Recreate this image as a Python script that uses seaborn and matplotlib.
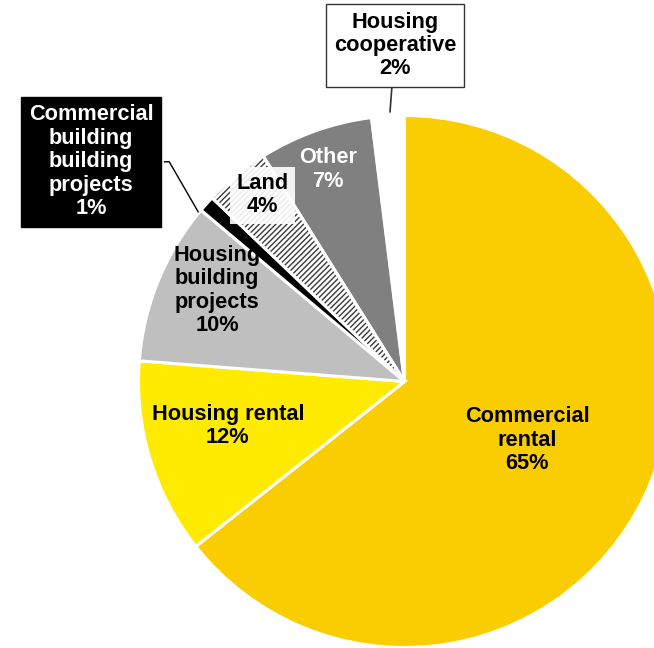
import matplotlib
matplotlib.use("Agg")
import matplotlib.pyplot as plt
from matplotlib.patches import Wedge
import seaborn as sns

# Portfolio breakdown by segment (share of total, %)
categories = [
    "Commercial\nrental",
    "Housing rental",
    "Housing\nbuilding\nprojects",
    "Commercial\nbuilding\nbuilding\nprojects",
    "Land",
    "Other",
    "Housing\ncooperative",
]
shares = [65, 12, 10, 1, 4, 7, 2]
colors = ["#FACD00", "#FFEB00", "#BFBFBF", "#000000", "#FFFFFF", "#808080", "#FFFFFF"]

sns.set_theme(style="white")
plt.rcParams["font.family"] = ["Liberation Sans", "DejaVu Sans"]
plt.rcParams["hatch.linewidth"] = 1.0

fig = plt.figure(figsize=(6.54, 6.48), dpi=100)
ax = fig.add_axes([0, 0, 1, 1])

wedges, _ = ax.pie(
    shares,
    colors=colors,
    startangle=90,
    counterclock=False,
    radius=1.0,
    wedgeprops=dict(edgecolor="white", linewidth=2.2),
)

# Hatched fill for the land segment, with the white separator redrawn on top
land = wedges[categories.index("Land")]
land.set_hatch("//////")
land.set_edgecolor("#3A3A3A")
land.set_linewidth(0)
ax.add_patch(Wedge(land.center, land.r, land.theta1, land.theta2,
                   fill=False, edgecolor="white", linewidth=2.2, zorder=land.get_zorder() + 0.1))

ax.set_aspect("equal")
ax.set_xlim(-1.5207, 0.938)
ax.set_ylim(-1.0019, 1.4342)
ax.axis("off")

fs = 15.7
ls = 1.15
label_text = [f"{c}\n{s}%" for c, s in zip(categories, shares)]

# In-slice labels
inside = {
    0: ((0.461, -0.220), "black", None),
    1: ((-0.664, -0.167), "black", None),
    2: ((-0.705, 0.342), "black", None),
    4: ((-0.534, 0.700), "black",
        dict(boxstyle="square,pad=0.3", facecolor="white", edgecolor="none", alpha=0.9)),
    5: ((-0.288, 0.797), "white", None),
}
for i, ((x, y), col, box) in inside.items():
    ax.text(x, y, label_text[i], ha="center", va="center", fontsize=fs,
            fontweight="bold", color=col, linespacing=ls, bbox=box, zorder=5)

# Callout for the commercial building projects slice
ax.annotate(
    label_text[3],
    xy=(-0.77, 0.628), xytext=(-1.178, 0.826),
    ha="center", va="center", fontsize=fs, fontweight="bold", color="white",
    linespacing=ls,
    bbox=dict(boxstyle="square,pad=0.35", facecolor="black", edgecolor="black"),
    arrowprops=dict(arrowstyle="-", color="black", lw=1.0,
                    connectionstyle="angle,angleA=0,angleB=-60,rad=0"),
    zorder=6,
)

# Callout for the housing cooperative slice
ax.annotate(
    label_text[6],
    xy=(-0.0545, 1.013), xytext=(-0.0357, 1.263),
    ha="center", va="center", fontsize=fs, fontweight="bold", color="black",
    linespacing=ls,
    bbox=dict(boxstyle="square,pad=0.35", facecolor="white", edgecolor="#333333", lw=1.0),
    arrowprops=dict(arrowstyle="-", color="#333333", lw=1.2, shrinkA=0, shrinkB=0),
    zorder=6,
)

fig.savefig("out.png", dpi=100, facecolor="white")
